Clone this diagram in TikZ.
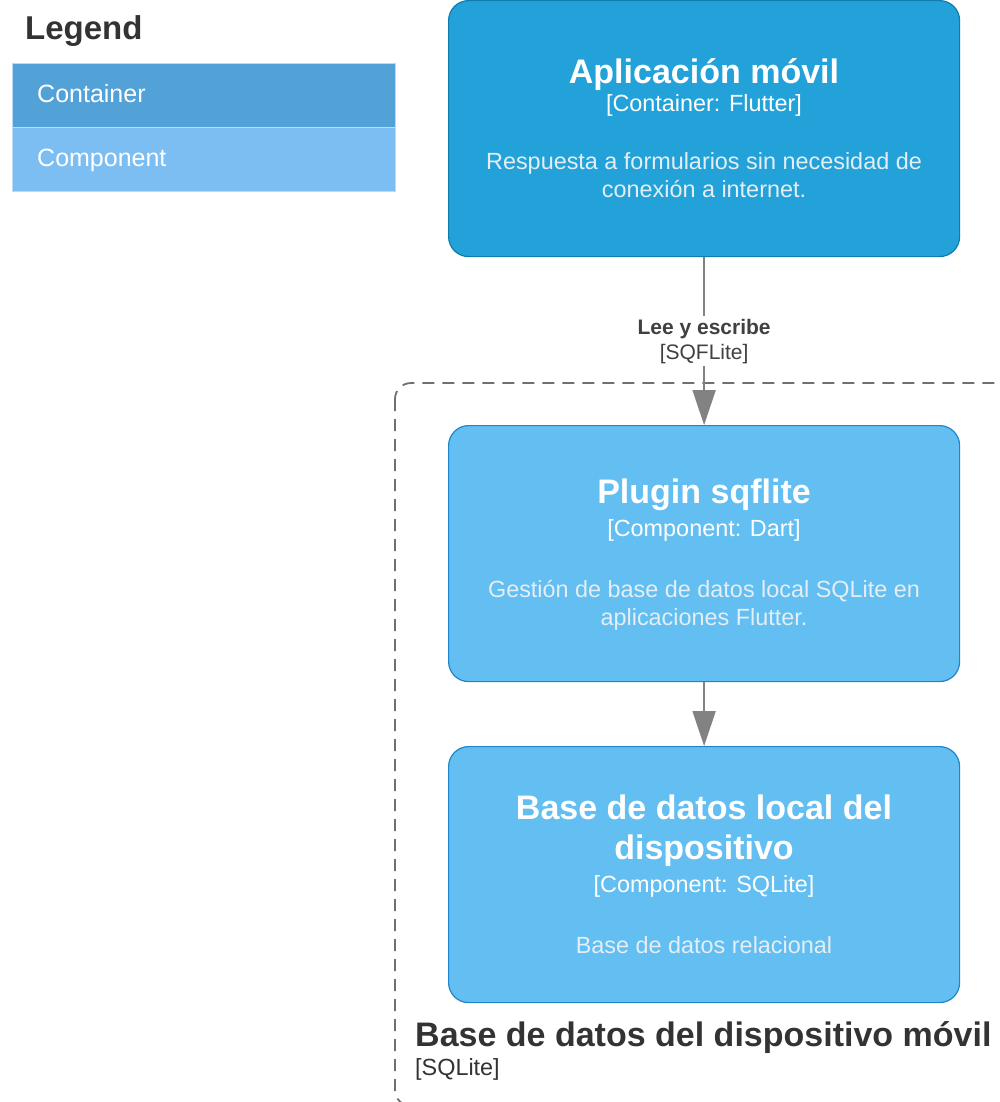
\documentclass[tikz,border=0pt]{standalone}
\usepackage{fontspec}
\setmainfont{Liberation Sans}
\usetikzlibrary{arrows.meta}
\definecolor{contfill}{HTML}{23A2D9}
\definecolor{contline}{HTML}{0E7DAD}
\definecolor{compfill}{HTML}{63BEF2}
\definecolor{compline}{HTML}{2086C9}
\definecolor{legcont}{HTML}{52A2D8}
\definecolor{legcomp}{HTML}{7DBEF2}
\definecolor{legline}{HTML}{B8DCF5}
\definecolor{reltext}{HTML}{404040}
\definecolor{relline}{HTML}{828282}
\definecolor{boundline}{HTML}{707070}
\definecolor{darktext}{HTML}{333333}
\definecolor{desctext}{HTML}{E4EEF4}
\begin{document}
\begin{tikzpicture}[x=1pt,y=-1pt,
  c4box/.style={rounded corners=20pt, line width=1.2pt, minimum width=511pt,
    minimum height=256pt, inner sep=0pt, anchor=north west},
  contbox/.style={c4box, fill=contfill, draw=contline},
  compbox/.style={c4box, fill=compfill, draw=compline},
  titletxt/.style={anchor=base, text=white, font=\fontsize{34}{40}\selectfont\bfseries, align=center, inner sep=0pt},
  techtxt/.style={anchor=base, text=white, font=\fontsize{23.4}{28}\selectfont, inner sep=0pt},
  desctxt/.style={anchor=base, text=desctext, font=\fontsize{23.4}{28}\selectfont, align=center, inner sep=0pt},
  rel/.style={draw=relline, line width=2pt, -{Triangle[length=35pt,width=23pt]}},
  rellabel/.style={fill=white, text=reltext, align=center, inner sep=3pt,
    font=\fontsize{21}{25}\selectfont},
  legrow/.style={minimum width=383pt, minimum height=64pt, inner sep=0pt, anchor=north west, draw=legline, line width=1pt},
  legtxt/.style={anchor=base west, text=white, font=\fontsize{25}{30}\selectfont, inner sep=0pt},
]
\useasboundingbox (0,0) rectangle (1000,1102);

% Legend
\node[anchor=base west, text=darktext, font=\fontsize{33}{38}\selectfont\bfseries, inner sep=0pt] (legtitle) at (25,40) {Legend};
\node[legrow, fill=legcont] (legcontainer) at (12,63) {};
\node[legrow, fill=legcomp] (legcomponent) at (12,127) {};
\node[legtxt] (legconttxt) at (37,103) {Container};
\node[legtxt] (legcomptxt) at (37,167) {Component};

% Boundary
\draw[draw=boundline, line width=1.8pt, dash pattern=on 12pt off 8pt, rounded corners=16pt]
  (395,383) rectangle (1030,1106);
\node[anchor=base west, text=darktext, font=\fontsize{34}{40}\selectfont\bfseries, inner sep=0pt] (boundtitle) at (415,1046) {Base de datos del dispositivo móvil};
\node[anchor=base west, text=darktext, font=\fontsize{23.4}{28}\selectfont, inner sep=0pt] (boundtech) at (415,1075) {[SQLite]};

% Boxes
\node[contbox] (app) at (448,0) {};
\node[compbox] (plugin) at (448,425) {};
\node[compbox] (db) at (448,746) {};

% App text
\node[titletxt] (apptitle) at (704,84) {Aplicación móvil};
\node[techtxt] (apptech) at (704,112) {[Container: Flutter]};
\node[desctxt] (appdesc1) at (704,170) {Respuesta a formularios sin necesidad de};
\node[desctxt] (appdesc2) at (704,197) {conexión a internet.};

% Plugin text
\node[titletxt] (plugintitle) at (704,503) {Plugin sqflite};
\node[techtxt] (plugintech) at (704,536) {[Component: Dart]};
\node[desctxt] (plugindesc1) at (704,597) {Gestión de base de datos local SQLite en};
\node[desctxt] (plugindesc2) at (704,625) {aplicaciones Flutter.};

% DB text
\node[titletxt] (dbtitle1) at (704,819) {Base de datos local del};
\node[titletxt] (dbtitle2) at (704,859) {dispositivo};
\node[techtxt] (dbtech) at (704,892) {[Component: SQLite]};
\node[desctxt] (dbdesc) at (704,953) {Base de datos relacional};

% Connectors
\draw[rel] (app.south) -- (plugin.north)
  node[rellabel, midway] (rel1label) {\textbf{Lee y escribe}\\{[SQFLite]}};
\draw[rel] (plugin.south) -- (db.north);
\end{tikzpicture}
\end{document}
